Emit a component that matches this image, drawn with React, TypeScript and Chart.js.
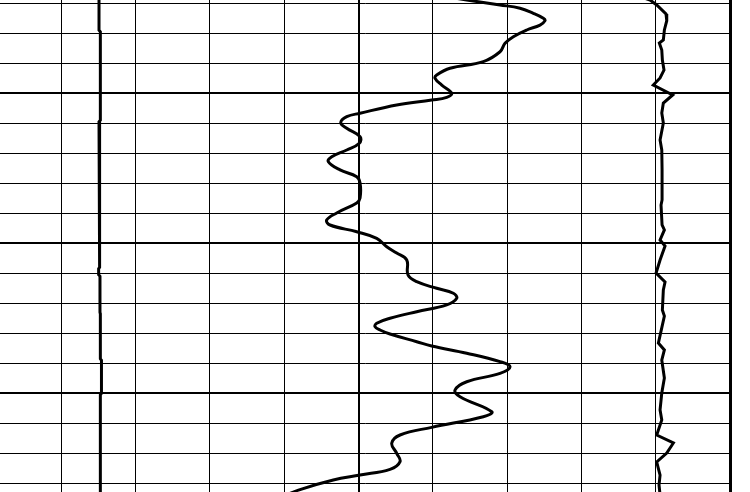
import React, { useEffect, useRef } from "react";
import { Chart, registerables } from "chart.js";

Chart.register(...registerables);

// Grid (depth axis every 2 ft, major every 10 ft; value axis every 10 units, major every 50)
const X_GRID = [10, 20, 30, 40, 50, 60, 70, 80, 90, 100];
const Y_GRID = [1004, 1006, 1008, 1010, 1012, 1014, 1016, 1018, 1020, 1022, 1024, 1026, 1028, 1030, 1032, 1034, 1036];
const X_MIN = 1.75;
const X_MAX = 100.16;
const DEPTH_TOP = 1003.78;
const DEPTH_BOTTOM = 1036.58;

// Left track curve (nearly constant)
const DEPTH_L = [1003.3, 1005.8, 1005.9, 1011.8, 1011.9, 1018.0, 1021.6, 1021.7, 1022.1, 1022.2, 1024.6, 1024.7, 1027.7, 1027.8, 1030.0, 1030.1, 1037.0];
const VAL_L = [15.07, 15.07, 15.25, 15.25, 15.07, 15.1, 15.2, 15.02, 15.02, 15.2, 15.2, 15.25, 15.25, 15.4, 15.4, 15.25, 15.25];

// Middle curve (smooth)
const DEPTH_M = [1003.38, 1003.78, 1004.11, 1004.33, 1004.67, 1005.0, 1005.16, 1005.45, 1005.78, 1006.23, 1006.67, 1007.23, 1007.89, 1008.33, 1008.78, 1009.0, 1009.45, 1010.0, 1010.27, 1010.45, 1010.78, 1011.33, 1011.56, 1011.96, 1012.33, 1012.89, 1013.33, 1013.78, 1014.23, 1014.56, 1015.11, 1015.56, 1015.98, 1016.98, 1017.31, 1017.98, 1018.45, 1018.78, 1019.23, 1019.67, 1020.23, 1020.65, 1021.11, 1022.11, 1022.56, 1023.0, 1023.33, 1023.67, 1024.11, 1024.56, 1025.0, 1025.33, 1025.56, 1025.78, 1026.05, 1026.56, 1026.85, 1027.33, 1027.89, 1028.23, 1028.67, 1029.23, 1029.78, 1030.23, 1031.23, 1031.56, 1032.27, 1032.78, 1033.33, 1034.0, 1034.56, 1035.07, 1035.45, 1035.78, 1036.45, 1036.98];
const VAL_M = [59.6, 64.54, 69.02, 71.71, 73.5, 74.85, 75.07, 74.4, 72.61, 70.81, 69.69, 69.02, 66.77, 62.29, 60.5, 60.28, 61.18, 62.52, 61.85, 59.83, 55.12, 50.19, 48.4, 47.59, 48.4, 50.19, 50.09, 48.4, 46.38, 45.92, 47.5, 49.74, 50.19, 50.19, 49.74, 47.05, 45.7, 46.15, 49.74, 52.43, 53.78, 55.12, 56.47, 56.64, 57.81, 60.5, 62.74, 63.19, 61.85, 57.81, 54.22, 52.43, 52.2, 52.88, 54.22, 57.81, 59.83, 64.54, 69.02, 70.37, 69.02, 64.54, 62.97, 63.64, 67.9, 66.77, 59.83, 55.57, 54.45, 55.12, 55.57, 54.22, 50.19, 46.59, 41.9, 39.42];

// Right curve (jagged)
const DEPTH_R = [1003.45, 1003.78, 1004.11, 1004.71, 1005.16, 1005.78, 1006.45, 1006.65, 1007.11, 1007.78, 1008.45, 1008.98, 1009.45, 1010.11, 1010.65, 1011.31, 1011.98, 1013.11, 1013.78, 1015.11, 1017.11, 1017.45, 1018.78, 1019.11, 1019.78, 1020.18, 1021.11, 1021.98, 1022.58, 1023.11, 1024.45, 1024.85, 1026.65, 1027.11, 1027.78, 1028.98, 1029.98, 1031.11, 1031.78, 1032.78, 1033.31, 1033.98, 1034.58, 1035.45, 1036.11, 1036.78];
const VAL_R = [87.18, 89.2, 90.1, 91.35, 91.45, 91.13, 90.99, 90.45, 90.78, 90.86, 91.08, 90.55, 89.64, 92.25, 90.99, 90.78, 90.99, 90.55, 90.78, 90.82, 90.82, 90.68, 90.82, 91.13, 90.55, 91.22, 90.55, 90.01, 91.22, 90.99, 90.86, 91.13, 90.32, 91.13, 90.78, 91.13, 90.78, 90.55, 90.78, 90.1, 92.34, 91.45, 90.1, 90.55, 90.41, 90.55];

const pts = (d: number[], v: number[]) => d.map((y, i) => ({ x: v[i], y }));

export default function App() {
  const ref = useRef<HTMLCanvasElement | null>(null);
  useEffect(() => {
    if (!ref.current) return;
    const chart = new Chart(ref.current, {
      type: "scatter",
      data: {
        datasets: [
          { data: pts(DEPTH_L, VAL_L), showLine: true, borderColor: "#000", borderWidth: 3, pointRadius: 0, tension: 0 },
          { data: pts(DEPTH_M, VAL_M), showLine: true, borderColor: "#000", borderWidth: 3, pointRadius: 0, tension: 0.4 },
          { data: pts(DEPTH_R, VAL_R), showLine: true, borderColor: "#000", borderWidth: 3, pointRadius: 0, tension: 0 },
        ],
      },
      options: {
        animation: false,
        responsive: false,
        devicePixelRatio: 1,
        layout: { padding: { left: 0, top: 0, bottom: 0, right: 18.5 }, autoPadding: false },
        plugins: { legend: { display: false }, tooltip: { enabled: false } },
        scales: {
          x: {
            type: "linear",
            min: X_MIN,
            max: X_MAX,
            ticks: { display: false, autoSkip: false },
            border: { display: false },
            grid: {
              color: "#000",
              drawTicks: false,
              lineWidth: (ctx: any) => (ctx.tick && ctx.tick.value === 100 ? 3 : ctx.tick && ctx.tick.value === 50 ? 2 : 1),
            },
            afterBuildTicks: (s: any) => {
              s.ticks = X_GRID.map((v) => ({ value: v }));
            },
          },
          y: {
            type: "linear",
            reverse: true,
            min: DEPTH_TOP,
            max: DEPTH_BOTTOM,
            ticks: { display: false, autoSkip: false },
            border: { display: false },
            grid: {
              color: "#000",
              drawTicks: false,
              lineWidth: (ctx: any) => (ctx.tick && ctx.tick.value % 10 === 0 ? 2 : 1),
            },
            afterBuildTicks: (s: any) => {
              s.ticks = Y_GRID.map((v) => ({ value: v }));
            },
          },
        },
      },
    });
    return () => chart.destroy();
  }, []);
  return (
    <div style={{ position: "fixed", left: 0, top: 0, width: 750, height: 492, background: "#fff" }}>
      <canvas ref={ref} width={750} height={492} style={{ display: "block", width: 750, height: 492 }} />
    </div>
  );
}
